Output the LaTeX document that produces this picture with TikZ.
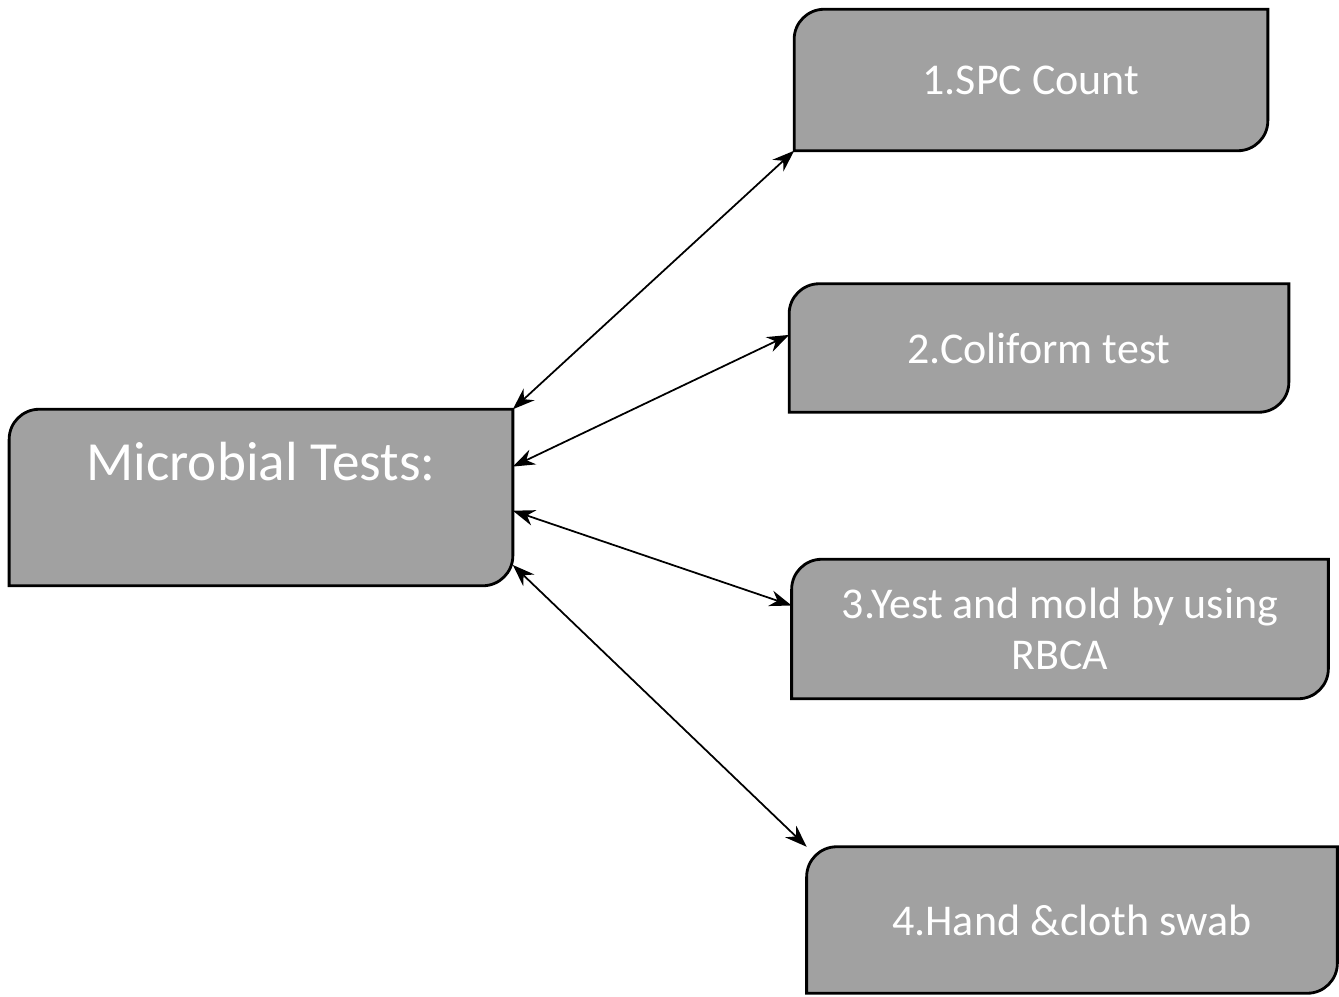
\documentclass[tikz,border=0pt]{standalone}
\usepackage{fontspec}
\setmainfont{Carlito}
\usetikzlibrary{arrows.meta, calc}
\usetikzlibrary{backgrounds}

\begin{document}
\begin{tikzpicture}[x=0.01cm,y=0.01cm,>={Stealth[length=2.2mm,width=1.6mm]},font=\fontsize{12.5}{14.5}\selectfont]

\tikzset{
  tile/.style={fill=black!37, draw=black, line width=0.8pt},
  tiletext/.style={text=white, align=center, inner sep=0pt},
}
% ---- raggio degli angoli ----
\def\r{0.3cm}

\useasboundingbox (0,0) rectangle (1339,996);

% ---- box principale ----
\node[tiletext, minimum width=5.02cm, text height=0.7cm, text depth=1.05cm, anchor=base,
      font=\fontsize{15.7}{18}\selectfont] (micro) at (261,516) {Microbial Tests:};

% ---- test ----
\node[tiletext, minimum width=4.72cm, minimum height=1.40cm] (spc)   at (1031,916) {1.SPC Count};
\node[tiletext, minimum width=4.98cm, minimum height=1.27cm] (coli)  at (1039,648) {2.Coliform test};
\node[tiletext, minimum width=5.35cm, minimum height=1.38cm] (yeast) at (1060,367) {3.Yest and mold by using\\RBCA};
\node[tiletext, minimum width=5.29cm, minimum height=1.45cm] (swab)  at (1072,76)  {4.Hand \&cloth swab};

% ---- sfondo dei box ----
\begin{scope}[on background layer]
\foreach \n in {micro,spc,coli,yeast,swab}
  \filldraw[tile] (\n.south west) -- ([yshift=-\r]\n.north west)
    arc[start angle=180, end angle=90, radius=\r] -- (\n.north east)
    -- ([yshift=\r]\n.south east) arc[start angle=0, end angle=-90, radius=\r] -- cycle;
\end{scope}

% ---- frecce ----
\draw[<->,line width=0.5pt] (micro.north east) -- (spc.south west);
\draw[<->,line width=0.5pt] (micro.7) -- (coli.177);
\draw[<->,line width=0.5pt] (micro.-3) -- (yeast.175);
\draw[<->,line width=0.5pt] (micro.-15) -- (swab.north west);

\end{tikzpicture}
\end{document}
